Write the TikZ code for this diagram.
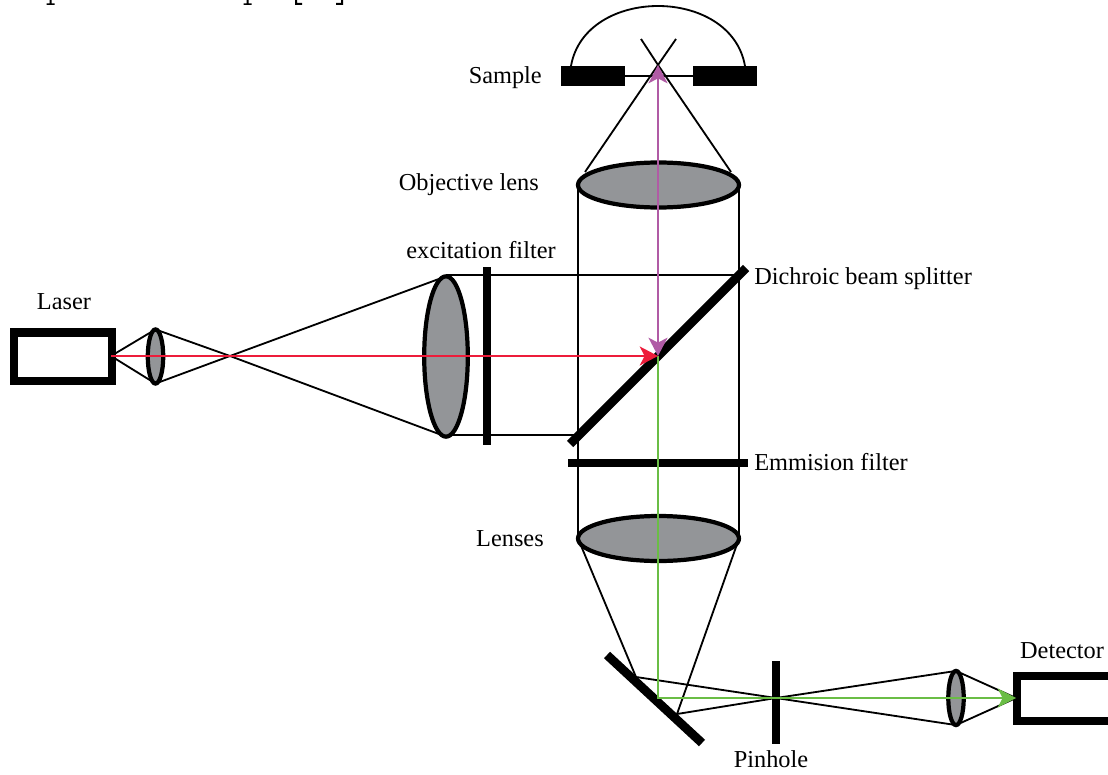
\documentclass[tikz,border=0pt]{standalone}
\usepackage{fontspec}
\setmainfont{Liberation Serif}
\usetikzlibrary{shapes.geometric,arrows.meta}
\definecolor{lensgray}{HTML}{939598}
\definecolor{redray}{HTML}{ED1C3A}
\definecolor{purpleray}{HTML}{B05BA5}
\definecolor{greenray}{HTML}{6ABD45}
\tikzset{
	lens/.style={draw=black, fill=lensgray, ellipse, line width=3pt, inner sep=0pt, outer sep=0pt},
	widelens/.style={lens, minimum width=114.5pt, minimum height=32pt},
	smalllens/.style={lens, minimum width=11pt, minimum height=38.5pt},
	ray/.style={black, line width=1.3pt},
	plate/.style={black, line width=5.5pt},
	casing/.style={black, line width=5.7pt},
	block/.style={black, fill=black, minimum width=45.5pt, minimum height=14.2pt, inner sep=0pt},
	label/.style={font=\fontsize{17.3}{20}\selectfont, inner sep=0pt},
	tip/.style={line width=1.4pt, -{Stealth[length=13pt, width=13.5pt, inset=3.5pt]}}
}
\begin{document}
\begin{tikzpicture}[x=0.025cm, y=-0.025cm]
	\useasboundingbox (0,0) rectangle (1108,774);

	\coordinate (laserout) at (111,356);
	\coordinate (laserfocus) at (230,356);
	\coordinate (samplefocus) at (658,65);
	\coordinate (crossleft) at (641,39);
	\coordinate (crossright) at (676,39);
	\coordinate (pinholefocus) at (776,698);
	\coordinate (foldtop) at (636,677);
	\coordinate (foldbottom) at (677,714);
	\coordinate (detectorin) at (1016,698);
	\coordinate (splittercentre) at (658,356);
	\coordinate (foldcentre) at (658,698);

	\draw[ray] (585,172) -- (samplefocus) -- (crossright);
	\draw[ray] (731,172) -- (samplefocus) -- (crossleft);
	\draw[ray] (571,66) .. controls (585,-14) and (731,-14) .. (745,66);
	\draw[ray] (625,76) -- (693,76);
	\draw[ray] (446,275) -- (739,275);
	\draw[ray] (446,435) -- (574,435);
	\draw[ray] (578,185) -- (578,538);
	\draw[ray] (739,185) -- (739,538);

	\node[widelens] (objective) at (658.5,185){};
	\node[widelens] (lenses) at (658.5,538.5){};
	\node[lens, minimum width=31pt, minimum height=114pt] (expander) at (446,356.5){};
	\node[smalllens] (laserlens) at (155.5,356.5){};
	\node[smalllens] (detectorlens) at (956,698){};

	\draw[ray] (laserout) -- (laserlens.north) -- (laserfocus) -- (expander.south);
	\draw[ray] (laserout) -- (laserlens.south) -- (laserfocus) -- (expander.north);
	\draw[ray] (lenses.west) -- (foldtop) -- (pinholefocus) -- (detectorlens.south) -- (detectorin);
	\draw[ray] (lenses.east) -- (foldbottom) -- (pinholefocus) -- (detectorlens.north) -- (detectorin);

	\node[block] (sampleleft) at (593,76){};
	\node[block] (sampleright) at (725,76){};

	\draw[plate] (487,267) -- (487,445);
	\draw[plate, line width=6.3pt] (570,444) -- (746,268);
	\draw[plate] (568,463) -- (748,463);
	\draw[plate, line width=6.3pt] (607,655) -- (702,743);
	\draw[black, line width=5pt] (776,661) -- (776,744);

	\draw[casing] (14,332.5) rectangle (112,381);
	\draw[casing] (1108,676) -- (1017,676) -- (1017,721) -- (1108,721);

	\draw[tip, greenray] (splittercentre) -- (foldcentre) -- (detectorin);
	\draw[tip, redray] (laserout) -- (splittercentre);
	\draw[tip, purpleray, line width=1.6pt, {Stealth[length=13pt, width=13.5pt, inset=3.5pt]}-{Stealth[length=13pt, width=13.5pt, inset=3.5pt]}] (samplefocus) -- (splittercentre);

	\fill[black] (49.5,0) rectangle (51.5,4) (46.5,3.5) rectangle (54.5,5);
	\fill[black] (246.5,0) rectangle (248.5,4) (243.5,3.5) rectangle (251.5,5);
	\fill[black] (295,0) rectangle (297,4) (295,3) rectangle (302,5);
	\fill[black] (341,0) rectangle (343,4) (336,3) rectangle (343,5);

	\node[label, anchor=east] (samplelabel) at (542,78){Sample};
	\node[label, anchor=east] (objectivelabel) at (539,185){Objective lens};
	\node[label] (filterlabel) at (481,250){excitation filter};
	\node[label] (laserlabel) at (64,302){Laser};
	\node[label, anchor=west] (splitterlabel) at (754,279){Dichroic beam splitter};
	\node[label, anchor=west] (emissionlabel) at (754,462){Emmision filter};
	\node[label, anchor=east] (lenseslabel) at (544,539){Lenses};
	\node[label] (detectorlabel) at (1062,651){Detector};
	\node[label] (pinholelabel) at (771,759){Pinhole};
\end{tikzpicture}
\end{document}
